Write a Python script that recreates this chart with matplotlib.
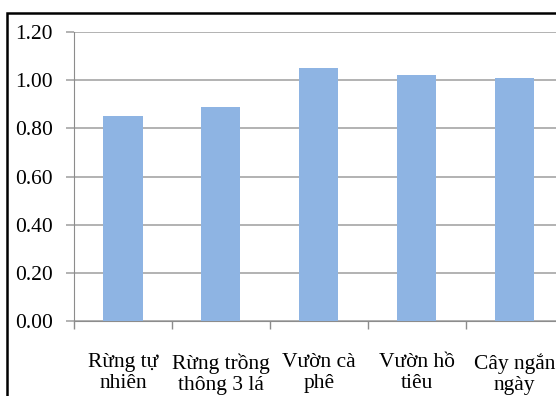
import matplotlib.pyplot as plt
from matplotlib.patches import Rectangle
from matplotlib.ticker import FixedLocator

plt.rcParams['font.family'] = ['Liberation Serif', 'DejaVu Serif']

categories = ['Rừng tự\nnhiên', 'Rừng trồng\nthông 3 lá', 'Vườn cà\nphê',
              'Vườn hồ\ntiêu', 'Cây ngắn\nngày']
values = [0.85, 0.89, 1.05, 1.02, 1.01]
yticks = [0.0, 0.2, 0.4, 0.6, 0.8, 1.0, 1.2]

fig = plt.figure(figsize=(5.56, 3.96), dpi=100)
ax = fig.add_axes([0.133, 0.189, 0.881, 0.730])

x = range(len(categories))
ax.bar(x, values, width=0.4, color='#8EB4E3', zorder=3)

ax.set_xlim(-0.5, len(categories) - 0.5)
ax.set_ylim(0, 1.2)
ax.set_yticks(yticks)
ax.set_yticklabels([f'{v:.2f}' for v in yticks])
ax.set_xticks(list(x))
ax.set_xticklabels(categories, linespacing=1.15)
ax.xaxis.set_minor_locator(FixedLocator([i - 0.5 for i in range(len(categories) + 1)]))

ax.grid(axis='y', color='#a6a6a6', linewidth=1.2, zorder=0)
ax.tick_params(axis='x', which='major', length=0, pad=23, labelsize=15.5)
ax.tick_params(axis='x', which='minor', length=6, color='#8c8c8c', width=1)
ax.tick_params(axis='y', length=6, color='#a6a6a6', width=1.2, pad=9, labelsize=15.5)

for side in ['top', 'right']:
    ax.spines[side].set_visible(False)
ax.spines['left'].set_color('#8c8c8c')
ax.spines['bottom'].set_color('#8c8c8c')

# frame around the chart area
fig.patches.append(Rectangle((7 / 556, -0.1), 1.2, 1 - 13 / 396 + 0.1,
                             transform=fig.transFigure, fill=False,
                             edgecolor='black', linewidth=1.8))

fig.savefig('out.png', dpi=100, facecolor='white')
